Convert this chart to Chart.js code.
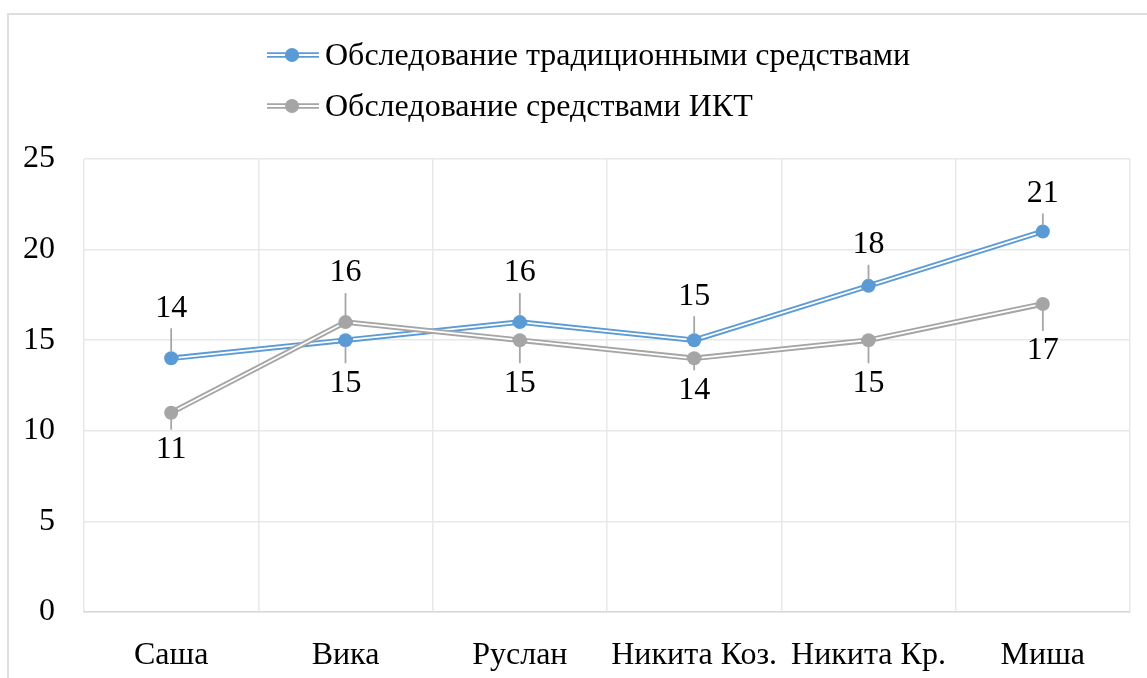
<!DOCTYPE html>
<html lang="ru">
<head>
  <meta charset="UTF-8" />
  <title>Обследование</title>
  <script src="https://cdn.jsdelivr.net/npm/chart.js"></script>
  <style>
    body {
      margin: 0;
      background: #fff;
      overflow: hidden;
    }
    .frame {
      position: absolute;
      left: 7px;
      top: 13px;
      width: 1200px;
      height: 720px;
      border: 2px solid #dedede;
    }
    #grafico {
      position: absolute;
      left: 0;
      top: 0;
    }
  </style>
</head>
<body>
  <div class="frame"></div>
  <canvas id="grafico" width="1147" height="678"></canvas>

  <script>
    // данные
    const categories = ["Саша", "Вика", "Руслан", "Никита Коз.", "Никита Кр.", "Миша"];
    const traditional = [14, 15, 16, 15, 18, 21];
    const ict = [11, 16, 15, 14, 15, 17];
    const seriesNames = ["Обследование традиционными средствами", "Обследование средствами ИКТ"];
    const yTicks = [0, 5, 10, 15, 20, 25];

    const FONT = "'Liberation Serif', 'Times New Roman', serif";
    const FSIZE = 32;
    const BLUE = "#5b9bd5";
    const GRAY = "#a5a5a5";

    // смещение подписей по вертикали (минус - сверху)
    const labelDy = [
      [-50, 43, -49, -44, -41, -38],
      [37, -49, 43, 32, 43, 47]
    ];

    // белая полоса внутри линии -> двойная линия как в Excel
    const doubleLine = {
      id: "doubleLine",
      afterDatasetDraw(chart, args) {
        const pts = args.meta.data;
        const r = 7.5;
        const ctx = chart.ctx;
        ctx.save();
        ctx.strokeStyle = "#fff";
        ctx.lineWidth = 1.8;
        for (let i = 0; i < pts.length - 1; i++) {
          const a = pts[i], b = pts[i + 1];
          const dx = b.x - a.x, dy = b.y - a.y;
          const len = Math.hypot(dx, dy);
          const ux = dx / len, uy = dy / len;
          ctx.beginPath();
          ctx.moveTo(a.x + ux * r, a.y + uy * r);
          ctx.lineTo(b.x - ux * r, b.y - uy * r);
          ctx.stroke();
        }
        ctx.restore();
      }
    };

    // подписи значений с линиями выноски
    const valueLabels = {
      id: "valueLabels",
      afterDatasetsDraw(chart) {
        const ctx = chart.ctx;
        ctx.save();
        ctx.font = FSIZE + "px " + FONT;
        ctx.textAlign = "center";
        ctx.textBaseline = "middle";
        chart.data.datasets.forEach((ds, d) => {
          const meta = chart.getDatasetMeta(d);
          meta.data.forEach((p, i) => {
            const dy = labelDy[d][i];
            const dir = Math.sign(dy);
            const end = Math.abs(dy) - 20;
            if (end > 10) {
              ctx.strokeStyle = "#a6a6a6";
              ctx.lineWidth = 1.8;
              ctx.beginPath();
              ctx.moveTo(p.x, p.y + dir * 6);
              ctx.lineTo(p.x, p.y + dir * end);
              ctx.stroke();
            }
            ctx.fillStyle = "#000";
            ctx.fillText(String(ds.data[i]), p.x, p.y + dy);
          });
        });
        ctx.restore();
      }
    };

    // легенда в две строки, выровнена по левому краю
    const legendBlock = {
      id: "legendBlock",
      afterDraw(chart) {
        const ctx = chart.ctx;
        const x0 = 267, x1 = 319, xd = 292;
        ctx.save();
        chart.data.datasets.forEach((ds, i) => {
          const y = 55 + i * 51;
          ctx.strokeStyle = ds.borderColor;
          ctx.lineWidth = 5.5;
          ctx.beginPath();
          ctx.moveTo(x0, y);
          ctx.lineTo(x1, y);
          ctx.stroke();
          ctx.strokeStyle = "#fff";
          ctx.lineWidth = 1.8;
          ctx.beginPath();
          ctx.moveTo(x0 - 1, y);
          ctx.lineTo(x1 + 1, y);
          ctx.stroke();
          ctx.fillStyle = ds.borderColor;
          ctx.beginPath();
          ctx.arc(xd, y, 7, 0, Math.PI * 2);
          ctx.fill();
          ctx.fillStyle = "#000";
          ctx.font = FSIZE + "px " + FONT;
          ctx.textAlign = "left";
          ctx.textBaseline = "middle";
          ctx.fillText(ds.label, 325, y + 2);
        });
        ctx.restore();
      }
    };

    new Chart(document.getElementById("grafico"), {
      type: "line",
      data: {
        labels: categories,
        datasets: [
          {
            label: seriesNames[0],
            data: traditional,
            borderColor: BLUE,
            backgroundColor: BLUE,
            pointBackgroundColor: BLUE,
            borderWidth: 5.5,
            pointRadius: 7,
            pointBorderWidth: 0,
            tension: 0,
            order: 1
          },
          {
            label: seriesNames[1],
            data: ict,
            borderColor: GRAY,
            backgroundColor: GRAY,
            pointBackgroundColor: GRAY,
            borderWidth: 5.5,
            pointRadius: 7,
            pointBorderWidth: 0,
            tension: 0,
            order: 0
          }
        ]
      },
      options: {
        responsive: false,
        animation: false,
        layout: { padding: { top: 159, right: 17, bottom: 0, left: 0 } },
        plugins: {
          legend: { display: false },
          tooltip: { enabled: false }
        },
        scales: {
          x: {
            offset: true,
            grid: { offset: true, color: "#e8e8e8", lineWidth: 1.5, drawTicks: false },
            border: { color: "#d9d9d9", width: 1.5 },
            ticks: {
              font: { family: FONT, size: FSIZE },
              color: "#000",
              padding: 24,
              maxRotation: 0,
              autoSkip: false
            },
            afterFit: s => { s.height = 66; }
          },
          y: {
            min: 0,
            max: 25,
            afterBuildTicks: s => { s.ticks = yTicks.map(v => ({ value: v })); },
            grid: { color: "#e8e8e8", lineWidth: 1.5, drawTicks: false },
            border: { display: false },
            ticks: {
              font: { family: FONT, size: FSIZE },
              color: "#000",
              padding: 29
            },
            afterFit: s => { s.width = 84; }
          }
        }
      },
      plugins: [doubleLine, valueLabels, legendBlock]
    });
  </script>
</body>
</html>
